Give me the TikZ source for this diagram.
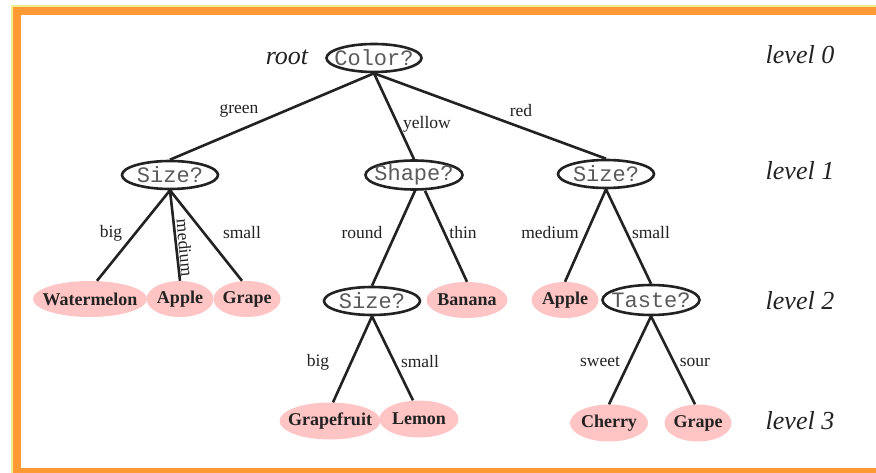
\documentclass[tikz,border=0pt]{standalone}
\usepackage{fontspec}
\setmainfont{Liberation Serif}
\newfontfamily\qfont{Liberation Mono}
\usetikzlibrary{shapes.geometric}
\definecolor{borderorange}{HTML}{FF9933}
\definecolor{borderyellow}{HTML}{F0EE90}
\definecolor{leafpink}{HTML}{FFC4C4}
\definecolor{qgray}{HTML}{5A5A5A}
\definecolor{ink}{HTML}{222222}
\newcommand\zw[1]{\makebox[0pt]{#1}}
\tikzset{
  qnode/.style={ellipse, draw=ink, line width=2.6pt, fill=white, inner sep=0pt,
    minimum width=96pt, minimum height=28pt, text=qgray,
    font=\qfont\fontsize{22}{22}\selectfont},
  leaf/.style={ellipse, fill=leafpink, inner sep=0pt, minimum width=67pt,
    minimum height=36pt, text=ink, font=\bfseries\fontsize{18}{18}\selectfont},
  lbl/.style={text=ink, inner sep=0pt, font=\fontsize{17.5}{17.5}\selectfont},
  lvl/.style={text=ink, inner sep=0pt, font=\itshape\fontsize{26}{26}\selectfont},
  edge/.style={draw=ink, line width=2.6pt}
}
\begin{document}
\begin{tikzpicture}[x=1pt, y=-1pt]
\useasboundingbox (0,0) rectangle (876,473);
% frame
\fill[borderyellow] (11,5) rectangle (876,473);
\fill[borderorange] (13,7) rectangle (876,473);
\fill[white] (21,15) rectangle (876,468);

% level labels
\node[lvl] (rootlbl) at (287,57) {root};
\node[lvl] (lv0) at (800,55) {level 0};
\node[lvl] (lv1) at (800,171) {level 1};
\node[lvl] (lv2) at (800,301) {level 2};
\node[lvl] (lv3) at (800,421) {level 3};

% question nodes
\node[qnode, minimum width=95pt] (color) at (374,58) {\zw{Color?}};
\node[qnode] (sizeA) at (170,175) {\zw{Size?}};
\node[qnode, minimum width=97pt] (shape) at (414,175) {\zw{Shape?}};
\node[qnode] (sizeB) at (606,174) {\zw{Size?}};
\node[qnode] (sizeC) at (372,301) {\zw{Size?}};
\node[qnode, minimum width=97pt, minimum height=30pt] (taste) at (651,300) {\zw{Taste?}};

% leaves
\node[leaf, minimum width=114pt] (watermelon) at (90,299) {\zw{Watermelon}};
\node[leaf] (appleA) at (180,299) {\zw{Apple}};
\node[leaf] (grapeA) at (247,299) {\zw{Grape}};
\node[leaf, minimum width=81pt] (banana) at (467,300) {\zw{Banana}};
\node[leaf] (appleB) at (565,300) {\zw{Apple}};
\node[leaf, minimum width=101pt, minimum height=37pt] (grapefruit) at (330,421) {\zw{Grapefruit}};
\node[leaf, minimum width=79pt, minimum height=37pt] (lemon) at (419,419) {\zw{Lemon}};
\node[leaf, minimum width=78pt, minimum height=37pt] (cherry) at (609,423) {\zw{Cherry}};
\node[leaf, minimum height=37pt] (grapeB) at (698,423) {\zw{Grape}};

% edges
\draw[edge] (color.south) -- (sizeA.north);
\draw[edge] (color.south) -- (shape.north);
\draw[edge] (color.south) -- (sizeB.north);
\draw[edge] (sizeA.south) -- ([xshift=7pt]watermelon.north);
\draw[edge] (sizeA.south) -- (appleA.north);
\draw[edge] (sizeA.south) -- ([xshift=-5pt]grapeA.north);
\draw[edge] ([xshift=1pt]shape.south) -- (sizeC.north);
\draw[edge] ([xshift=11pt]shape.south) -- (banana.north);
\draw[edge] (sizeB.south) -- (appleB.north);
\draw[edge] (sizeB.south) -- (taste.north);
\draw[edge] (sizeC.south) -- ([xshift=3pt]grapefruit.north);
\draw[edge] (sizeC.south) -- ([xshift=-6pt]lemon.north);
\draw[edge] (taste.south) -- (cherry.north);
\draw[edge] (taste.south) -- ([xshift=-3pt]grapeB.north);

% edge labels
\node[lbl] (lgreen) at (239,111) {green};
\node[lbl] (lyellow) at (427,124) {yellow};
\node[lbl] (lred) at (521,111) {red};
\node[lbl] (lbigA) at (111,233) {big};
\node[lbl, rotate=-85] (lmedA) at (185,248) {medium};
\node[lbl] (lsmallA) at (242,233) {small};
\node[lbl] (lround) at (362,233) {round};
\node[lbl] (lthin) at (463,233) {thin};
\node[lbl] (lmedB) at (550,233) {medium};
\node[lbl] (lsmallB) at (651,233) {small};
\node[lbl] (lbigC) at (318,362) {big};
\node[lbl] (lsmallC) at (420,362) {small};
\node[lbl] (lsweet) at (600,362) {sweet};
\node[lbl] (lsour) at (695,362) {sour};
\end{tikzpicture}
\end{document}
